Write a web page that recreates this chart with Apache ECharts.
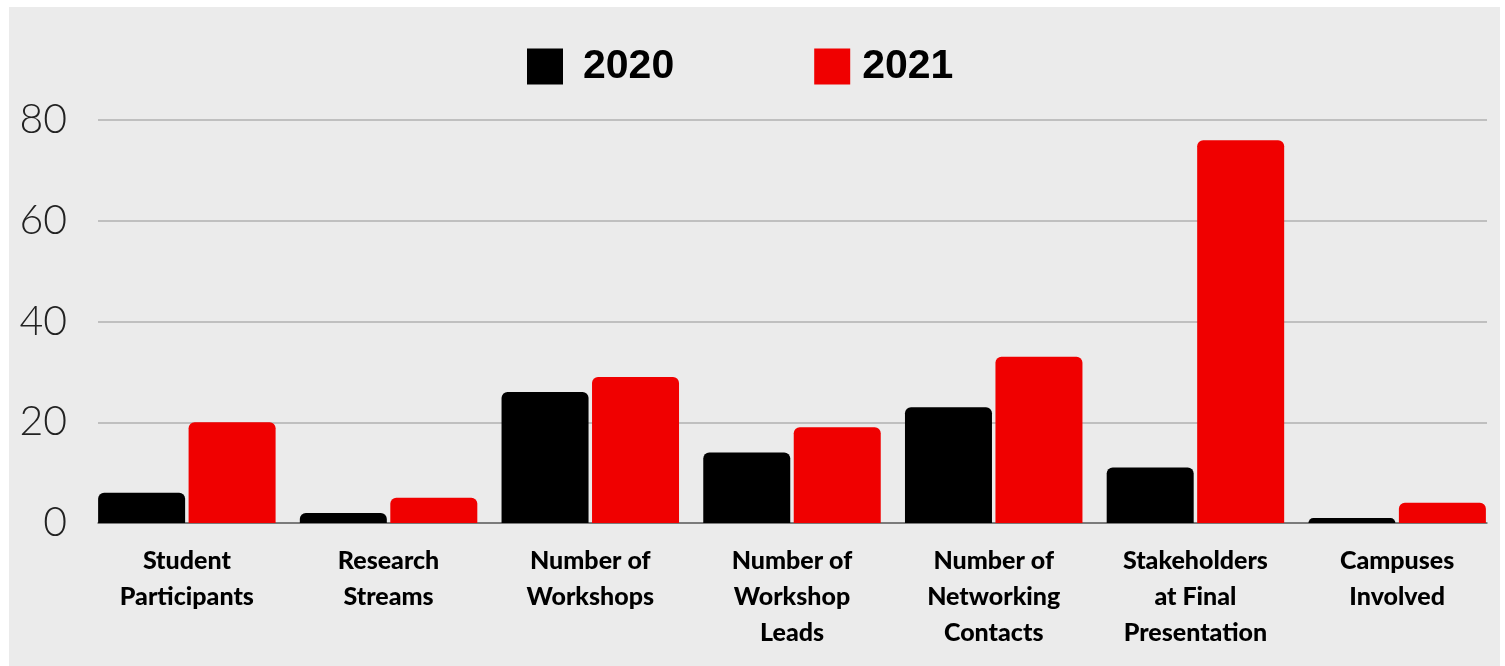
<!DOCTYPE html>
<html><head><meta charset="utf-8">
<script src="https://cdn.jsdelivr.net/npm/echarts@6/dist/echarts.min.js"></script>
<style>html,body{margin:0;padding:0;background:#fff;}#c{width:1505px;height:666px;}</style>
</head><body><div id="c"></div>
<script>
const categories = ['Student\nParticipants','Research\nStreams','Number of\nWorkshops','Number of\nWorkshop\nLeads','Number of\nNetworking\nContacts','Stakeholders\nat Final\nPresentation','Campuses\nInvolved'];
const values2020 = [6, 2, 26, 14, 23, 11, 1];
const values2021 = [20, 5, 29, 19, 33, 76, 4];
const yTicks = [0, 20, 40, 60, 80];

const chart = echarts.init(document.getElementById('c'));
chart.setOption({
  animation: false,
  graphic: [{type:'rect', shape:{x:9,y:7,width:1491,height:659}, style:{fill:'#ebebeb'}, z:-100, silent:true}],
  legend: {
    data: [
      {name:'2020', textStyle:{padding:[12,0,0,15]}},
      {name:'2021', textStyle:{padding:[12,0,0,7]}}
    ],
    left: 522, top: 41, icon: 'rect', itemWidth: 36, itemHeight: 36, itemGap: 140,
    textStyle: {fontFamily:'Liberation Sans', fontWeight:'bold', fontSize:41, color:'#000'}
  },
  grid: [
    {left: 98, right: 18, top: 120, bottom: 143},
    {left: 86, right: 7, top: 120, bottom: 143}
  ],
  xAxis: [
    {gridIndex:0, type:'category', data: categories, axisLine:{show:true, lineStyle:{color:'#666', width:1.5}}, axisTick:{show:false}, axisLabel:{show:false}},
    {gridIndex:1, type:'category', data: categories, axisLine:{show:false}, axisTick:{show:false},
     axisLabel:{interval:0, margin:20, fontFamily:'Lato', fontWeight:900, fontSize:25, lineHeight:36, color:'#000'}}
  ],
  yAxis: [
    {gridIndex:0, type:'value', min:0, max:80, interval:20,
     axisLine:{show:false}, axisTick:{show:false},
     splitLine:{lineStyle:{color:'#b0b0b0', width:1.5}},
     axisLabel:{margin:31, fontFamily:'Lato', fontWeight:300, fontSize:41, color:'#222',
       formatter: v => yTicks.includes(v) ? String(v) : ''}},
    {gridIndex:1, type:'value', min:0, max:80, interval:20, show:false}
  ],
  series: [
    {name:'2020', type:'bar', xAxisIndex:1, yAxisIndex:1, data: values2020, barWidth:87, barGap:'4%',
     itemStyle:{color:'#000', borderRadius:[6,6,0,0]}},
    {name:'2021', type:'bar', xAxisIndex:1, yAxisIndex:1, data: values2021, barWidth:87, barGap:'4%',
     itemStyle:{color:'#f00000', borderRadius:[6,6,0,0]}}
  ]
});
</script></body></html>
